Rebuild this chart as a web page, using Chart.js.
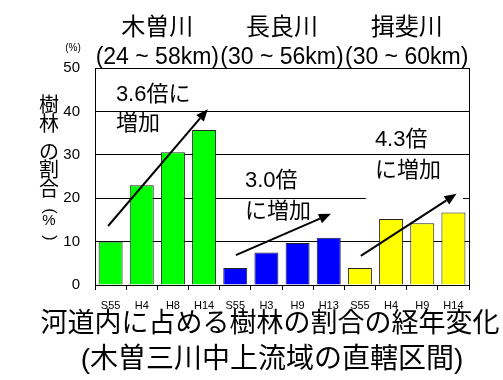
<!DOCTYPE html>
<html>
<head>
<meta charset="utf-8">
<script src="https://cdn.jsdelivr.net/npm/chart.js@4/dist/chart.umd.min.js"></script>
<style>
  html, body { margin: 0; padding: 0; background: #fff; }
  #wrap { width: 503px; height: 380px; }
</style>
</head>
<body>
<div id="wrap"><canvas id="c" width="503" height="380"></canvas></div>
<script>
// Survey years per river (Showa / Heisei)
const categories = ['S55', 'H4', 'H8', 'H14', 'S55', 'H3', 'H9', 'H13', 'S55', 'H4', 'H9', 'H14'];
const riverNames = ['木曽川', '長良川', '揖斐川'];
const riverRanges = ['(24 ~ 58km)', '(30 ~ 56km)', '(30 ~ 60km)'];

// Share of woodland inside the river channel (%)
const kisoShare = [10.0, 23.0, 30.6, 35.7];
const nagaraShare = [3.9, 7.5, 9.7, 10.9];
const ibiShare = [3.9, 15.2, 14.2, 16.7];

const yTicks = [0, 10, 20, 30, 40, 50];
const riverColors = ['#00ff00', '#0000ff', '#ffff00'];

// Trend arrows: [category index, value]
const trendArrows = [
  { from: [-0.08, 13.6], to: [3.12, 40.5] },
  { from: [4.02, 6.9], to: [7.07, 16.4] },
  { from: [8.03, 6.7], to: [11.1, 21.0] }
];
// Growth notes: left edge as category index, each line centred on a value
const ratioNotes = [
  { x: 0.17, lines: [['3.6倍に', 43.9], ['増加', 37.2]] },
  { x: 4.31, lines: [['3.0倍', 24.0], ['に増加', 16.9]] },
  { x: 8.48, lines: [['4.3倍', 33.5], ['に増加', 26.3]], box: [8.19, 11.31, 18.9, 28.4] }
];

const axisTitleChars = ['樹', '林', 'の', '割', '合', '(', '%', ')'];
const mainTitle = '河道内に占める樹林の割合の経年変化';
const subTitle = '(木曽三川中上流域の直轄区間)';

const FONT = '"Liberation Sans", "Noto Sans CJK JP", sans-serif';
Chart.defaults.font.family = FONT;
Chart.defaults.color = '#000';

const groups = [kisoShare, nagaraShare, ibiShare];
const values = groups.flat();
const barColors = groups.flatMap((g, r) => g.map(() => riverColors[r]));

function px(chart, i) { return chart.scales.x.getPixelForValue(i); }
function py(chart, v) { return chart.scales.y.getPixelForValue(v); }

const decor = {
  id: 'decor',
  beforeDatasetsDraw(chart) {
    // white backing of the 4.3倍 note (hides the grid line behind it)
    const ctx = chart.ctx;
    ctx.save();
    ctx.fillStyle = '#fff';
    ratioNotes.forEach(n => {
      if (!n.box) return;
      const [x0, x1, v0, v1] = n.box;
      const l = px(chart, x0), r = px(chart, x1);
      const t = py(chart, v1), b = py(chart, v0);
      ctx.fillRect(l, t, r - l, b - t);
    });
    ctx.restore();
  },
  afterDatasetsDraw(chart) {
    const ctx = chart.ctx;
    ctx.save();
    ctx.strokeStyle = '#000';
    ctx.fillStyle = '#000';
    ctx.lineWidth = 2;
    trendArrows.forEach(a => {
      const x0 = px(chart, a.from[0]), y0 = py(chart, a.from[1]);
      const x1 = px(chart, a.to[0]), y1 = py(chart, a.to[1]);
      const ang = Math.atan2(y1 - y0, x1 - x0);
      const hl = 12, hw = 5;
      const bx = x1 - hl * Math.cos(ang), by = y1 - hl * Math.sin(ang);
      ctx.beginPath();
      ctx.moveTo(x0, y0);
      ctx.lineTo(bx, by);
      ctx.stroke();
      ctx.beginPath();
      ctx.moveTo(x1, y1);
      ctx.lineTo(bx + hw * Math.sin(ang), by - hw * Math.cos(ang));
      ctx.lineTo(bx - hw * Math.sin(ang), by + hw * Math.cos(ang));
      ctx.closePath();
      ctx.fill();
    });
    ctx.font = '22px ' + FONT;
    ctx.textAlign = 'left';
    ctx.textBaseline = 'middle';
    ratioNotes.forEach(n => {
      const x = px(chart, n.x);
      n.lines.forEach(([t, v]) => ctx.fillText(t, x, py(chart, v)));
    });
    ctx.restore();
  },
  afterDraw(chart) {
    const ctx = chart.ctx;
    const area = chart.chartArea;
    ctx.save();
    // right frame line
    ctx.strokeStyle = '#000';
    ctx.lineWidth = 1;
    ctx.beginPath();
    ctx.moveTo(Math.round(area.right) + 0.5, area.top);
    ctx.lineTo(Math.round(area.right) + 0.5, area.bottom);
    ctx.stroke();

    ctx.fillStyle = '#000';
    ctx.textAlign = 'center';
    ctx.textBaseline = 'middle';
    // river names and reaches, centred over each group of four bars
    riverNames.forEach((name, r) => {
      const cx = px(chart, r * 4 + 1.5);
      ctx.font = '24px ' + FONT;
      ctx.fillText(name, cx, 28);
      ctx.font = '23px ' + FONT;
      ctx.fillText(riverRanges[r], cx, 58);
    });
    // unit above the value axis
    ctx.font = '10px ' + FONT;
    ctx.fillText('(%)', 73, 48);

    // vertical axis title, glyphs stacked top to bottom
    const titleY = [106, 125, 153, 171, 190, 211, 221, 238];
    axisTitleChars.forEach((ch, k) => {
      if (ch === '(' || ch === ')') {
        ctx.save();
        ctx.translate(49, titleY[k]);
        ctx.rotate(Math.PI / 2);
        ctx.font = '16px ' + FONT;
        ctx.fillText(ch, 0, 0);
        ctx.restore();
      } else if (ch === '%') {
        ctx.font = '15px ' + FONT;
        ctx.fillText(ch, 49, titleY[k]);
      } else {
        ctx.font = '20px ' + FONT;
        ctx.fillText(ch, 49, titleY[k]);
      }
    });

    // chart title below the axis
    ctx.font = '27px ' + FONT;
    ctx.fillText(mainTitle, 270, 325);
    ctx.font = '28px ' + FONT;
    ctx.fillText(subTitle, 272, 360);
    ctx.restore();
  }
};

new Chart(document.getElementById('c'), {
  type: 'bar',
  data: {
    labels: categories,
    datasets: [{
      data: values,
      backgroundColor: barColors,
      borderColor: '#222',
      borderWidth: 1,
      categoryPercentage: 1,
      barPercentage: 0.77
    }]
  },
  options: {
    responsive: false,
    devicePixelRatio: 1,
    animation: false,
    layout: { padding: { left: 55, right: 34, top: 68, bottom: 65 } },
    plugins: { legend: { display: false }, tooltip: { enabled: false }, title: { display: false } },
    scales: {
      x: {
        grid: { drawOnChartArea: false, drawTicks: true, tickLength: 5, color: '#000', offset: true },
        border: { color: '#000', width: 1 },
        ticks: { font: { size: 11 }, padding: 9, maxRotation: 0, autoSkip: false },
        afterFit(s) { s.height = 30; }
      },
      y: {
        min: 0,
        max: 50,
        afterBuildTicks(s) { s.ticks = yTicks.map(v => ({ value: v })); },
        grid: { color: '#000', drawTicks: false },
        border: { color: '#000', width: 1 },
        ticks: { font: { size: 15 }, padding: 15 },
        afterFit(s) { s.width = 40; }
      }
    }
  },
  plugins: [decor]
});
</script>
</body>
</html>
